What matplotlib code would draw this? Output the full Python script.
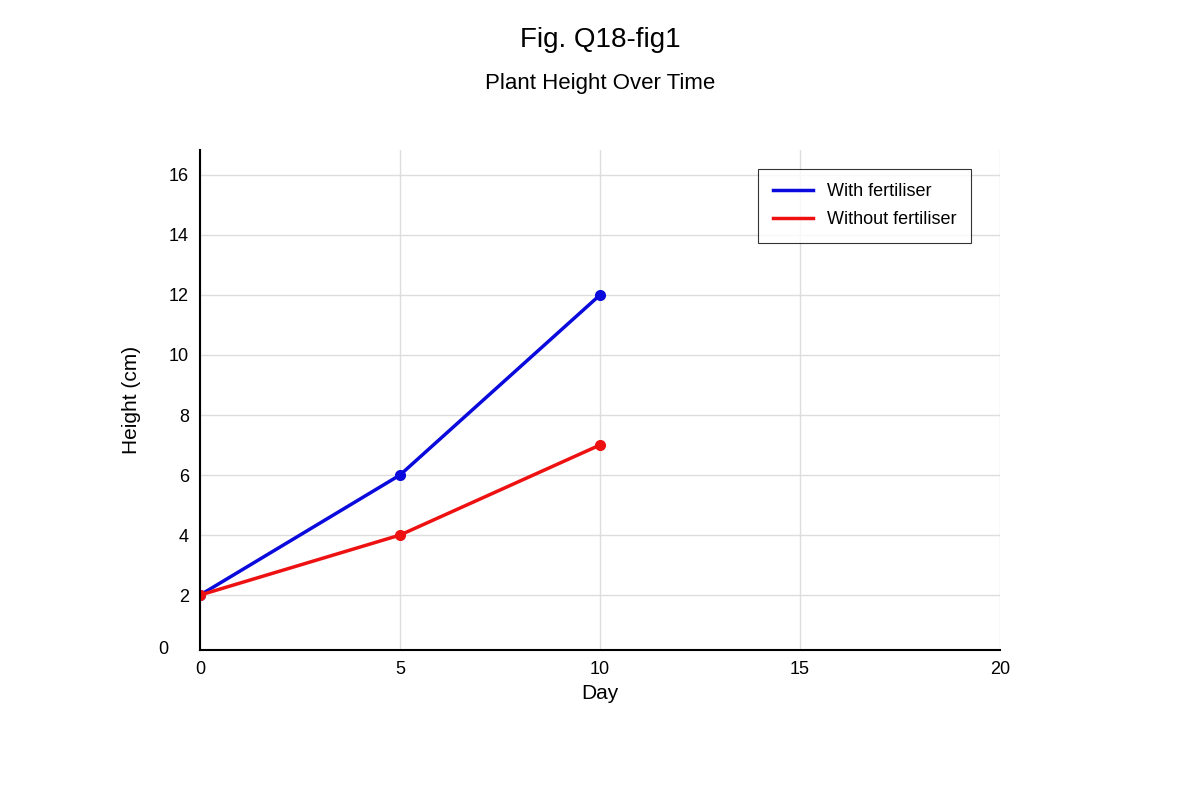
import matplotlib
matplotlib.use("Agg")
import matplotlib.pyplot as plt

plt.rcParams['font.family'] = ['Liberation Sans', 'DejaVu Sans']

days = [0, 5, 10]
with_fert = [2, 6, 12]
without_fert = [2, 4, 7]
xticks = [0, 5, 10, 15, 20]
yticks = [0, 2, 4, 6, 8, 10, 12, 14, 16]

fig = plt.figure(figsize=(12, 8), dpi=100)
ax = fig.add_axes([200/1200, 1-650/800, 800/1200, 500/800])
ax.plot(days, with_fert, color='#0a0adc', lw=2.5, marker='o', ms=7, label='With fertiliser')
ax.plot(days, without_fert, color='#ee1111', lw=2.5, marker='o', ms=7, label='Without fertiliser')
ax.set_xlim(0, 20)
ax.set_ylim(0.17, 16.83)
ax.set_xticks(xticks)
ax.set_yticks(yticks[1:])
ax.tick_params(length=0, labelsize=13, pad=8)
ax.grid(True, color='#dddddd', lw=1)
ax.set_axisbelow(True)
for s in ['top', 'right']:
    ax.spines[s].set_visible(False)
ax.spines['left'].set_linewidth(1.5)
ax.spines['bottom'].set_linewidth(1.5)
ax.text(-0.04, 0.0, '0', transform=ax.transAxes, ha='right', va='center', fontsize=13)
ax.set_xlabel('Day', fontsize=15, labelpad=4)
ax.set_ylabel('Height (cm)', fontsize=15, labelpad=20)
leg = ax.legend(loc='upper right', bbox_to_anchor=(0.975, 0.98), fontsize=13, frameon=True,
                fancybox=False, edgecolor='black', handlelength=2.2, borderpad=0.8, labelspacing=0.6)
leg.get_frame().set_linewidth(0.8)
for h in leg.legend_handles:
    h.set_marker('')
fig.text(0.5, 1-40/800, 'Fig. Q18-fig1', ha='center', va='center', fontsize=20)
fig.text(0.5, 1-83/800, 'Plant Height Over Time', ha='center', va='center', fontsize=16)
fig.savefig('out.png', dpi=100)
